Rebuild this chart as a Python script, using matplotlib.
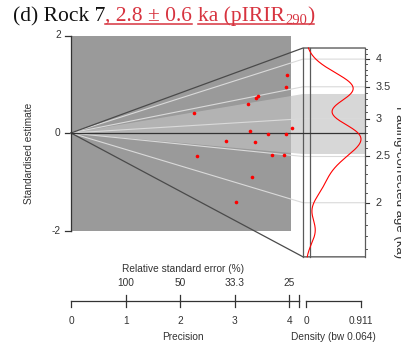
import numpy as np
import matplotlib
matplotlib.use("Agg")
import matplotlib.pyplot as plt

# radial part (precision, standardised estimate)
precision = [3.96, 3.93, 3.42, 3.39, 3.24, 2.26, 3.28, 3.61, 3.94, 4.04,
             2.83, 3.37, 2.30, 3.69, 3.91, 3.32, 3.02]
std_estimate = [1.18, 0.94, 0.75, 0.72, 0.60, 0.41, 0.04, -0.03, -0.02, 0.10,
                -0.16, -0.18, -0.47, -0.46, -0.45, -0.91, -1.42]
central_age = 2.8
band_ages = [2.53, 3.38]
age_limits = [1.54, 4.22]
age_ticks = [2, 2.5, 3, 3.5, 4]
age_tick_labels = ["2", "2.5", "3", "3.5", "4"]
age_minor = [1.6, 1.7, 1.8, 1.9, 2.1, 2.2, 2.3, 2.4, 2.6, 2.7, 2.8, 2.9,
             3.1, 3.2, 3.3, 3.4, 3.6, 3.7, 3.8, 3.9, 4.1, 4.2]
y_ticks = [-2, 0, 2]
prec_ticks = [0, 1, 2, 3, 4]
rse_ticks = [1, 2, 3, 4]
rse_labels = ["100", "50", "33.3", "25"]
density_labels = ["0", "0.911"]
bandwidth = 0.064

# layout (precision units / standardised units)
x_rect = 4.03
x_end = 4.25
x_inner = 4.38
x_right = 5.385
x_axis_end = 4.18
dens_x0, dens_x1 = 4.304, 5.311

TXT = "#333333"
FS = 7.3
sans = "Liberation Sans"
red = "#d7333f"


def z2y(z):
    return np.log(np.asarray(z, dtype=float) / central_age) * x_end


fig = plt.figure(figsize=(4.01, 3.54), dpi=100)
ax = fig.add_axes([0, 0, 1, 1])
ax.set_xlim((0 - 71) / 54.6, (401 - 71) / 54.6)
ax.set_ylim((133 - 354) / 48.75, (133 - 0) / 48.75)
ax.axis("off")

# 2-sigma rectangle
ax.fill([0, x_rect, x_rect, 0], [-2, -2, 2, 2], color="#9a9a9a", lw=0, zorder=1)

# central band (wedge + strip in density panel)
b_lo, b_hi = z2y(band_ages)
ax.fill([0, x_end, x_right, x_right, x_end], [0, b_hi, b_hi, b_lo, b_lo],
        color="#c2c2c2", alpha=0.65, lw=0, zorder=2)

# radial lines for age ticks
for y in z2y(age_ticks):
    ax.plot([0, x_end, x_right], [0, y, y], color="#dadada", lw=0.8, zorder=3)

# outer z-axis lines and box
y_top, y_bot = z2y(age_limits[1]), z2y(age_limits[0])
line_c = "#4a4a4a"
ax.plot([0, x_end, x_right], [0, y_top, y_top], color=line_c, lw=0.9, zorder=4)
ax.plot([0, x_end, x_right], [0, y_bot, y_bot], color=line_c, lw=0.9, zorder=4)
for xv in [x_end, x_inner, x_right]:
    ax.plot([xv, xv], [y_bot, y_top], color="#5a5a5a", lw=0.9, zorder=4)
ax.plot([0, x_right], [0, 0], color="#333333", lw=0.9, zorder=4)

# points
ax.plot(precision, std_estimate, "o", color="red", ms=2.6, mec="none", zorder=6)

# KDE of log ages
ages = central_age * np.exp(np.array(std_estimate) / np.array(precision))
grid = np.linspace(np.log(age_limits[0]), np.log(age_limits[1]), 400)
dens = np.exp(-0.5 * ((grid[:, None] - np.log(ages)[None, :]) / bandwidth) ** 2).sum(1)
dens = dens / (len(ages) * bandwidth * np.sqrt(2 * np.pi))
ax.plot(dens_x0 + dens / dens.max() * (dens_x1 - dens_x0),
        (grid - np.log(central_age)) * x_end,
        color="red", lw=0.8, zorder=6)

# left axis
ax.plot([0, 0], [-2, 2], color="#333333", lw=0.9, zorder=5)
for t in y_ticks:
    ax.plot([-0.11, 0], [t, t], color="#333333", lw=0.9)
    ax.text(-0.19, t, str(t), ha="right", va="center", fontsize=FS, family=sans, color=TXT)
ax.text(-0.77, -0.42, "Standardised estimate", rotation=90, ha="center", va="center",
        fontsize=FS, family=sans, color=TXT)

# right (age) axis
tick_len = 4 / 54.6
for t, lab in zip(age_ticks, age_tick_labels):
    y = z2y(t)
    ax.plot([x_right, x_right + tick_len], [y, y], color="#333333", lw=0.8)
    ax.text(x_right + 0.2, y, lab, ha="left", va="center", fontsize=FS + 0.5, family=sans, color=TXT)
for t in age_minor:
    y = z2y(t)
    ax.plot([x_right, x_right + tick_len * 0.6], [y, y], color="#333333", lw=0.6)
# the reference cuts this label at the right edge too
ax.text((393 - 71) / 54.6, (133 - 182) / 48.75, "Fading-corrected age (ka)", rotation=270,
        ha="left", va="center", fontsize=9.5, family=sans, color=TXT)

# bottom axes
y_ax = (133 - 301) / 48.75
tk = 6 / 48.75
ax.plot([0, x_axis_end], [y_ax, y_ax], color="#333333", lw=0.9)
for t in prec_ticks + [x_axis_end]:
    ax.plot([t, t], [y_ax, y_ax - tk], color="#333333", lw=0.9)
for t in rse_ticks + [x_axis_end]:
    ax.plot([t, t], [y_ax, y_ax + tk], color="#333333", lw=0.9)
for t in prec_ticks:
    ax.text(t, (133 - 321) / 48.75, str(t), ha="center", va="center", fontsize=FS, family=sans, color=TXT)
for t, lab in zip(rse_ticks, rse_labels):
    ax.text(t, (133 - 283) / 48.75, lab, ha="center", va="center", fontsize=FS, family=sans, color=TXT)
ax.text(2.05, (133 - 269) / 48.75, "Relative standard error (%)", ha="center", va="center",
        fontsize=FS, family=sans, color=TXT)
ax.text(2.05, (133 - 337) / 48.75, "Precision", ha="center", va="center",
        fontsize=FS, family=sans, color=TXT)

# density axis
ax.plot([dens_x0, dens_x1], [y_ax, y_ax], color="#333333", lw=0.9)
for xv, lab in zip([dens_x0, dens_x1], density_labels):
    ax.plot([xv, xv], [y_ax, y_ax - tk], color="#333333", lw=0.9)
    ax.text(xv, (133 - 321) / 48.75, lab, ha="center", va="center", fontsize=FS, family=sans, color=TXT)
ax.text((dens_x0 + dens_x1) / 2, (133 - 337) / 48.75, "Density (bw 0.064)", ha="center", va="center",
        fontsize=FS, family=sans, color=TXT)

# title pieces
fig.canvas.draw()
r = fig.canvas.get_renderer()
inv = ax.transData.inverted()
serif = "Liberation Serif"
base_y = (133 - 21) / 48.75
x = (13 - 71) / 54.6


def piece(x, s, color, size=15.5, dy=0.0):
    t = ax.text(x, base_y + dy, s, ha="left", va="baseline", fontsize=size, family=serif, color=color)
    bb = t.get_window_extent(renderer=r)
    return inv.transform((bb.x1, 0))[0]


x = piece(x, "(d) Rock 7", "#111111")
u1 = x
x = piece(x, ", 2.8 \u00b1 0.6", red)
u1_end = x
x = x + 6 / 54.6
u2 = x
x = piece(x, "ka (pIRIR", red)
x = piece(x, "290", red, size=10.5, dy=-2.5 / 48.75)
x = piece(x, ")", red)
u_y = (133 - 24) / 48.75
ax.plot([u1, u1_end], [u_y, u_y], color=red, lw=1.1)
ax.plot([u2, x], [u_y, u_y], color=red, lw=1.1)

fig.savefig("out.png", dpi=100)
